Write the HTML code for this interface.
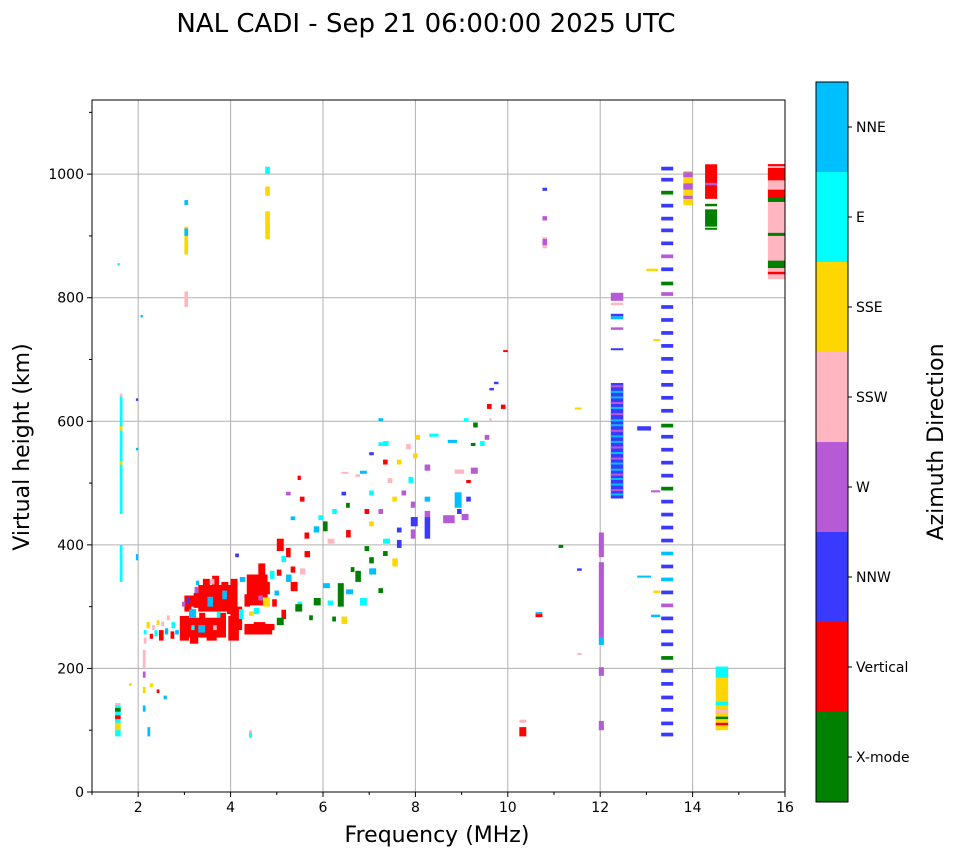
<!DOCTYPE html>
<html><head><meta charset="utf-8"><style>
body{margin:0;background:#fff;font-family:"DejaVu Sans","Liberation Sans",sans-serif;}
svg text{font-family:"DejaVu Sans","Liberation Sans",sans-serif;fill:#000;}
</style></head><body>
<svg width="958" height="857" viewBox="0 0 958 857" xmlns="http://www.w3.org/2000/svg">
<text x="426" y="32" font-size="26" text-anchor="middle">NAL CADI - Sep 21 06:00:00 2025 UTC</text>
<g id="grid"></g>
<g id="marks"></g>
<g id="axes"></g>
<g id="cbar"></g>
<text x="437" y="842" font-size="22" text-anchor="middle">Frequency (MHz)</text>
<text x="0" y="0" font-size="22" text-anchor="middle" transform="translate(29,447) rotate(-90)">Virtual height (km)</text>
<text x="0" y="0" font-size="22" text-anchor="middle" transform="translate(943,442) rotate(-90)">Azimuth Direction</text>
</svg>
<script>
const categories=["X-mode","Vertical","NNW","W","SSW","SSE","E","NNE"];
const catColors=["#008000","#ff0000","#3a3aff","#b65ad6","#ffb6c1","#ffd700","#00ffff","#00bfff"];
const xTicks=[2,4,6,8,10,12,14,16];
const yTicks=[0,200,400,600,800,1000];
// blocks: [f0,f1,h0,h1,category]
const lowBlocks=[
[1.5,1.62,90,140,6],[1.5,1.62,100,112,5],[1.5,1.62,118,124,1],[1.5,1.62,130,136,0],[1.5,1.62,140,144,4],
[1.6,1.66,340,400,6],[1.6,1.66,450,640,6],[1.6,1.66,585,592,5],[1.6,1.66,530,535,5],[1.6,1.66,640,645,4],
[1.55,1.6,852,856,6],[2.05,2.1,768,772,7],[1.95,2.0,633,637,2],[1.95,2.0,553,557,7],[1.95,2.0,375,385,7],
[2.1,2.16,200,230,4],[2.1,2.16,185,195,3],[2.1,2.16,160,170,5],[2.1,2.16,130,140,7],[2.2,2.26,90,105,7],
[2.4,2.46,160,166,1],[2.55,2.62,150,156,7],[2.25,2.32,170,176,5],[1.8,1.86,172,176,5],[4.4,4.46,88,98,6],[4.4,4.46,96,100,4]];
const clusterFill=[
[2.95,3.9,250,282,1],[3.3,4.15,292,335,1],[4.3,4.9,255,272,1],[4.35,4.8,302,352,1],[3.0,3.3,300,318,1],[4.0,4.25,262,300,1]];
const clusterBlocks=[
[2.12,2.18,240,250,4],[2.12,2.18,255,262,6],[2.18,2.25,265,275,5],[2.25,2.32,248,256,1],[2.3,2.36,262,270,4],[2.35,2.42,252,262,6],[2.4,2.46,270,278,5],
[2.45,2.55,245,262,1],[2.5,2.56,268,276,4],[2.58,2.65,255,265,7],[2.62,2.68,278,286,4],[2.7,2.78,248,260,1],[2.72,2.8,265,275,6],[2.8,2.88,255,262,7],
[2.9,3.1,245,285,1],[3.12,3.3,240,280,1],[3.32,3.45,250,290,1],[3.48,3.7,245,280,1],[3.72,3.9,250,290,1],[3.95,4.18,245,285,1],
[3.0,3.15,292,310,1],[3.2,3.32,298,322,1],[3.4,3.55,295,345,1],[3.6,3.75,310,350,1],[3.8,3.95,302,340,1],[4.0,4.15,320,345,1],[3.92,4.1,288,300,1],
[3.1,3.25,282,296,7],[3.3,3.45,258,270,7],[3.5,3.62,300,316,7],[3.22,3.3,322,332,3],[3.55,3.65,336,345,4],[3.15,3.22,262,270,6],[3.7,3.78,282,292,6],
[4.18,4.28,280,296,6],[3.82,3.92,312,326,7],[3.05,3.12,305,315,2],[3.62,3.7,262,270,4],[2.95,3.02,300,308,3],[3.25,3.32,335,342,7],
[4.3,4.45,255,270,1],[4.5,4.75,255,275,1],[4.8,4.95,262,272,1],[4.3,4.42,300,320,1],[4.45,4.6,330,350,1],[4.6,4.75,345,370,1],[4.75,4.85,320,340,1],
[4.9,5.0,300,312,1],[5.0,5.15,390,410,1],[5.2,5.3,380,395,1],[5.1,5.2,280,295,1],[5.3,5.4,355,365,1],[5.0,5.1,350,360,1],[5.3,5.45,325,340,1],
[4.5,4.62,288,298,6],[4.7,4.85,300,315,5],[4.2,4.32,340,348,7],[4.85,4.95,345,358,6],[5.2,5.32,340,352,7],[5.5,5.62,352,362,4],[5.1,5.2,372,382,6],
[5.6,5.72,380,390,1],[4.1,4.18,380,386,2],[4.6,4.7,310,318,3],[4.4,4.5,285,292,5],[4.95,5.05,318,326,7],[5.45,5.55,300,308,6],
[5.6,5.7,410,420,1],[5.8,5.92,420,430,7],[5.9,6.0,440,448,6],[5.3,5.4,440,446,7],[5.5,5.6,470,478,1],[5.45,5.52,505,512,1],[5.2,5.3,480,486,3],
[6.1,6.25,402,410,4],[6.0,6.15,330,338,7],[6.1,6.22,302,310,6],[6.5,6.65,320,328,7],[6.4,6.52,272,284,5],[6.5,6.6,412,424,1],[6.2,6.3,450,458,6],
[5.0,5.15,270,282,0],[5.4,5.55,292,304,0],[5.8,5.95,302,314,0],[6.32,6.45,300,338,0],[6.7,6.82,340,358,0],[7.0,7.1,370,380,0],[7.3,7.4,382,390,0],
[6.6,6.68,356,364,0],[6.0,6.1,422,438,0],[6.5,6.58,460,468,0],[6.9,7.0,390,398,0],[7.2,7.3,322,330,0],[6.2,6.28,276,284,0],[5.7,5.78,278,286,0],
[6.8,6.95,302,314,6],[7.0,7.15,352,362,7],[7.3,7.45,402,410,6],[7.0,7.1,430,438,5],[7.2,7.3,450,458,3],[7.5,7.6,470,478,5],[7.6,7.7,420,428,2],
[7.4,7.5,500,508,4],[7.6,7.7,530,538,5],[7.0,7.1,480,488,6],[6.8,6.95,515,520,7],[7.2,7.3,560,566,6],[7.8,7.9,555,563,4],[7.7,7.8,480,488,3],
[7.5,7.62,365,378,5],[7.6,7.7,395,408,2],[6.4,6.5,480,486,2],[6.9,7.0,450,458,1],[7.3,7.4,530,538,1],[7.3,7.42,560,568,6],[6.7,6.8,510,514,4],
[7.9,8.0,410,425,3],[7.9,8.05,430,445,2],[7.9,8.0,460,470,3],[8.2,8.32,410,445,2],[8.2,8.32,445,455,3],[8.2,8.32,470,478,7],[8.2,8.32,520,530,3],
[7.95,8.05,540,548,5],[8.0,8.1,570,578,5],[8.6,8.85,435,448,3],[8.85,9.0,460,485,7],[8.9,9.0,450,458,2],[9.0,9.15,440,450,3],[9.1,9.2,470,478,2],
[9.2,9.35,515,525,3],[8.85,9.05,515,522,4],[9.1,9.2,500,505,1],[9.25,9.35,590,598,0],[9.05,9.15,600,605,6],[9.4,9.5,560,568,6],[9.5,9.6,570,578,3],
[9.55,9.65,620,628,1],[9.7,9.8,660,664,2],[9.6,9.7,650,654,2],[9.85,9.95,620,627,1],[9.6,9.65,600,605,4],[9.9,10.0,712,715,1],
[8.3,8.5,575,580,6],[8.7,8.9,565,570,7],[9.2,9.3,560,565,0],[7.0,7.1,545,550,2],[7.2,7.3,600,605,7],[7.85,7.95,500,510,6],[6.4,6.55,515,518,4]];
const rightBlocks=[
[3.0,3.08,785,810,4],[3.0,3.08,870,915,5],[3.0,3.08,900,912,7],[3.0,3.08,950,958,7],
[4.75,4.85,895,940,5],[4.75,4.85,965,980,5],[4.75,4.85,1000,1012,6],
[10.75,10.85,973,978,2],[10.75,10.85,925,932,3],[10.75,10.85,880,898,4],[10.75,10.85,885,895,3],
[11.97,12.08,380,420,3],[11.97,12.08,250,372,3],[11.97,12.08,238,250,7],[11.97,12.08,188,202,3],[11.97,12.08,100,115,3],
[12.23,12.5,475,662,2],[12.23,12.5,795,808,3],[12.23,12.5,788,792,4],[12.23,12.5,765,770,7],[12.23,12.5,770,774,2],[12.23,12.5,748,752,3],[12.23,12.5,715,718,2],
[12.8,13.1,585,592,2],[12.8,13.1,347,350,7],[13.1,13.3,283,287,7],[13.1,13.3,485,488,3],[13.15,13.3,322,326,5],[13.15,13.3,730,733,5],[13.0,13.25,843,847,5],
[11.45,11.6,619,622,5],[11.1,11.2,395,400,0],[11.5,11.6,358,362,2],[11.5,11.6,222,224,4],[10.25,10.4,90,105,1],[10.25,10.4,112,117,4],[10.6,10.75,283,288,1],[10.6,10.75,288,290,7],
[13.8,14.0,950,1005,5],[13.8,14.0,995,1003,3],[13.8,14.0,975,985,3],[13.8,14.0,960,965,3],[13.8,14.0,955,958,5],
[14.27,14.53,960,1016,1],[14.27,14.53,982,986,3],[14.27,14.53,915,943,0],[14.27,14.53,948,952,0],[14.27,14.53,910,913,0],
[14.5,14.77,100,200,5],[14.5,14.77,185,203,6],[14.5,14.77,108,112,1],[14.5,14.77,118,122,0],[14.5,14.77,140,146,6],[14.5,14.77,128,133,4],
[15.63,16,830,1016,4],[15.63,16,990,1010,1],[15.63,16,960,975,1],[15.63,16,975,980,4],[15.63,16,955,962,0],[15.63,16,900,905,0],[15.63,16,848,860,0],[15.63,16,838,842,1],[15.63,16,1013,1016,1]];
const column13Heights=[90,108,130,150,172,193,214,236,257,278,299,320,341,362,383,404,425,446,467,488,509,530,551,572,590,614,635,656,677,698,719,740,761,782,803,820,843,864,885,906,925,946,967,988,1006];
const column13Cats=[2,2,2,2,2,2,0,2,2,2,3,2,7,2,7,2,2,2,2,0,2,2,2,2,0,2,2,2,2,2,2,2,2,2,3,0,2,3,2,2,2,2,0,2,2];
const column12Stripes=[480,487,496,505,512,520,530,538,547,556,565,574,583,592,600,610,620,628,637,646,655];
const column12Cats=[7,3,7,7,3,7,7,3,7,3,7,7,3,7,7,3,7,3,7,7,3];

const L=92,R=785,T=100,B=792;
const fMin=1,fMax=16,hMin=0,hMax=1120;
const X=f=>L+(f-fMin)/(fMax-fMin)*(R-L);
const Y=h=>B-(h-hMin)/(hMax-hMin)*(B-T);
const NS="http://www.w3.org/2000/svg";
function mk(tag,attrs,parent){const e=document.createElementNS(NS,tag);for(const k in attrs)e.setAttribute(k,attrs[k]);parent.appendChild(e);return e;}
const grid=document.getElementById('grid'),marks=document.getElementById('marks'),axes=document.getElementById('axes'),cbar=document.getElementById('cbar');
xTicks.forEach(v=>{const l=mk('line',{x1:X(v),x2:X(v),y1:T,y2:B,stroke:'#b0b0b0','stroke-width':1},grid);

});
yTicks.forEach(v=>{const l=mk('line',{x1:L,x2:R,y1:Y(v),y2:Y(v),stroke:'#b0b0b0','stroke-width':1},grid);

});
function block(f0,f1,h0,h1,c,name){
 const y1=Y(h1),y0=Y(h0);const hh=Math.max(2,y0-y1);
 const r=mk('rect',{x:X(f0),y:y0-hh,width:Math.max(2,X(f1)-X(f0)),height:hh,fill:catColors[c]},marks);
 
 }
lowBlocks.forEach(b=>block(b[0],b[1],b[2],b[3],b[4],'echo-low'));
clusterFill.forEach(b=>block(b[0],b[1],b[2],b[3],b[4],'echo-trace-core'));
clusterBlocks.forEach(b=>block(b[0],b[1],b[2],b[3],b[4],'echo-trace'));
rightBlocks.forEach(b=>block(b[0],b[1],b[2],b[3],b[4],'echo-high'));
column12Stripes.forEach((h,i)=>block(12.23,12.5,h,h+3,column12Cats[i],'echo-12mhz-stripe'));
column13Heights.forEach((h,i)=>block(13.32,13.58,h,h+6,column13Cats[i],'echo-13mhz-dash'));
const fr=mk('rect',{x:L,y:T,width:R-L,height:B-T,fill:'none',stroke:'#000','stroke-width':1},axes);


xTicks.forEach(v=>{mk('line',{x1:X(v),x2:X(v),y1:B,y2:B+5,stroke:'#000'},axes);
 const t=mk('text',{x:X(v),y:B+20,'font-size':14,'text-anchor':'middle'},axes);t.textContent=v;
 
 });
for(let v=1;v<=15;v+=2)mk('line',{x1:X(v),x2:X(v),y1:B,y2:B+3,stroke:'#000'},axes);
yTicks.forEach(v=>{mk('line',{x1:L-5,x2:L,y1:Y(v),y2:Y(v),stroke:'#000'},axes);
 const t=mk('text',{x:L-8,y:Y(v)+5,'font-size':14,'text-anchor':'end'},axes);t.textContent=v;
 
 });
for(let v=100;v<=1100;v+=200)mk('line',{x1:L-3,x2:L,y1:Y(v),y2:Y(v),stroke:'#000'},axes);
const cx=816,cw=32,ct=82,cb=802,seg=(cb-ct)/categories.length;
categories.forEach((c,i)=>{const y=cb-(i+1)*seg;
 const r=mk('rect',{x:cx,y:y,width:cw,height:seg,fill:catColors[i]},cbar);
 
 
 mk('line',{x1:cx+cw,x2:cx+cw+4,y1:y+seg/2,y2:y+seg/2,stroke:'#000'},cbar);
 const t=mk('text',{x:cx+cw+8,y:y+seg/2+5,'font-size':14},cbar);t.textContent=c;
 
 });
const cf=mk('rect',{x:cx,y:ct,width:cw,height:cb-ct,fill:'none',stroke:'#000'},cbar);


</script>
</body></html>
